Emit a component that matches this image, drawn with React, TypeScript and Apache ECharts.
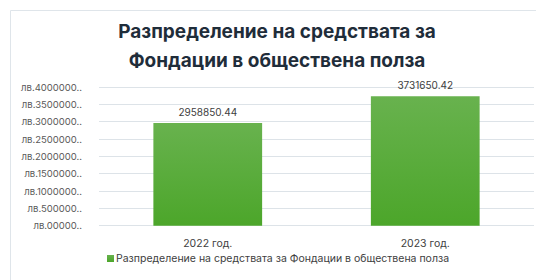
import React, { useEffect, useRef } from "react";
import * as echarts from "echarts";

const categories = ["2022 год.", "2023 год."];
const seriesName = "Разпределение на средствата за Фондации в обществена полза";
const values = [2958850.44, 3731650.42];
const yTickLabels: Record<number, string> = {
  0: "лв.00000..",
  500000: "лв.500000..",
  1000000: "лв.1000000..",
  1500000: "лв.1500000..",
  2000000: "лв.2000000..",
  2500000: "лв.2500000..",
  3000000: "лв.3000000..",
  3500000: "лв.3500000..",
  4000000: "лв.4000000..",
};
const titleLines = ["Разпределение на средствата за", "Фондации в обществена полза"];

export default function App() {
  const ref = useRef<HTMLDivElement>(null);
  useEffect(() => {
    document.body.style.margin = "0";
    const chart = echarts.init(ref.current!, null, { renderer: "svg" });
    chart.setOption({
      animation: false,
      backgroundColor: "#ffffff",
      textStyle: { fontFamily: "Inter, 'Noto Sans', sans-serif" },
      graphic: [
        {
          type: "rect",
          shape: { x: 10.5, y: 10.5, width: 600, height: 300 },
          style: { fill: "none", stroke: "#dfe5ea", lineWidth: 1 },
          silent: true,
        },
      ],
      title: {
        text: titleLines.join("\n"),
        left: 272,
        top: 12,
        textAlign: "center",
        textStyle: {
          fontSize: 19,
          fontWeight: "bold",
          color: "#1f2d3a",
          lineHeight: 29,
          fontFamily: "Inter, 'Noto Sans', sans-serif",
        },
      },
      legend: {
        data: [seriesName],
        left: 102,
        top: 248,
        icon: "rect",
        itemWidth: 7,
        itemHeight: 7,
        itemGap: 4,
        textStyle: { fontSize: 10.5, color: "#404040", padding: [0, 0, 0, -3] },
      },
      grid: { left: 99, right: 2, top: 87, bottom: 54.3, containLabel: false },
      xAxis: {
        type: "category",
        data: categories,
        axisLine: { show: false },
        axisTick: { show: false },
        axisLabel: { color: "#404040", fontSize: 10.5, margin: 12 },
      },
      yAxis: {
        type: "value",
        min: 0,
        max: 4000000,
        interval: 500000,
        axisLine: { show: false },
        axisTick: { show: false },
        splitLine: { lineStyle: { color: "#dde3e8", width: 1 } },
        axisLabel: {
          color: "#595959",
          fontSize: 9.5,
          margin: 17,
          formatter: (v: number) => yTickLabels[v] ?? String(v),
        },
      },
      series: [
        {
          name: seriesName,
          type: "bar",
          data: values,
          barWidth: "50%",
          itemStyle: {
            color: new echarts.graphic.LinearGradient(0, 0, 0, 1, [
              { offset: 0, color: "#68b24e" },
              { offset: 1, color: "#4ca62a" },
            ]),
          },
          label: {
            show: true,
            position: "top",
            distance: 6,
            color: "#404040",
            fontSize: 10,
            formatter: (p: any) => (p.value as number).toFixed(2),
          },
        },
      ],
    });
    return () => chart.dispose();
  }, []);
  return (
    <div
      ref={ref}
      style={{ position: "absolute", left: 0, top: 0, width: 536, height: 280 }}
    />
  );
}
